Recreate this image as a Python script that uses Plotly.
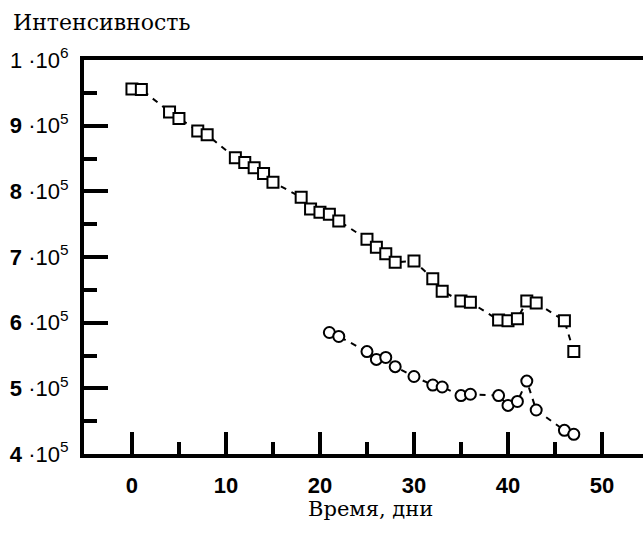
import plotly.graph_objects as go

# ---- data ----
sq_days = [0, 1, 4, 5, 7, 8, 11, 12, 13, 14, 15, 18, 19, 20, 21, 22,
           25, 26, 27, 28, 30, 32, 33, 35, 36, 39, 40, 41, 42, 43, 46, 47]
sq_vals = [956000, 955000, 921000, 911000, 892000, 886000, 851000, 844000,
           836000, 827000, 814000, 791000, 773000, 768000, 765000, 755000,
           727000, 715000, 705000, 692000, 694000, 667000, 648000, 633000,
           631000, 604000, 603000, 606000, 633000, 630000, 603000, 556000]

ci_days = [21, 22, 25, 26, 27, 28, 30, 32, 33, 35, 36, 39, 40, 41, 42, 43, 46, 47]
ci_vals = [585000, 579000, 556000, 544000, 547000, 533000, 518000, 505000,
           502000, 489000, 491000, 489000, 474000, 480000, 511000, 467000,
           436000, 430000]

x_ticks = [0, 10, 20, 30, 40, 50]
x_ticktext = ["0", "10", "20", "30", "40", "50"]
y_ticks = [400000, 500000, 600000, 700000, 800000, 900000, 1000000]
y_ticktext = ["<b>4</b> ·10<sup>5</sup>", "<b>5</b> ·10<sup>5</sup>", "<b>6</b> ·10<sup>5</sup>",
              "<b>7</b> ·10<sup>5</sup>", "<b>8</b> ·10<sup>5</sup>", "<b>9</b> ·10<sup>5</sup>",
              "1 ·10<sup>6</sup>"]

y_title = "Интенсивность"
x_title = "Время, дни"

fig = go.Figure()
fig.add_trace(go.Scatter(
    x=sq_days, y=sq_vals, mode="lines+markers",
    line=dict(color="black", width=2, dash="6px,6px"),
    marker=dict(symbol="square", size=11, color="white",
                line=dict(color="black", width=2)),
    showlegend=False))
fig.add_trace(go.Scatter(
    x=ci_days, y=ci_vals, mode="lines+markers",
    line=dict(color="black", width=2, dash="6px,6px"),
    marker=dict(symbol="circle", size=11, color="white",
                line=dict(color="black", width=2)),
    showlegend=False))

fig.update_xaxes(
    range=[-5.1, 54.36], showgrid=False, zeroline=False,
    showline=True, linecolor="black", linewidth=4, mirror=True,
    tickmode="array", tickvals=x_ticks, ticktext=x_ticktext,
    ticks="inside", ticklen=22, tickwidth=4, tickcolor="black",
    ticklabelstandoff=9,
    tickfont=dict(family="Liberation Sans", size=22, color="black", weight="bold"),
    minor=dict(ticks="inside", ticklen=12, tickwidth=4, tickcolor="black",
               tickmode="array", tickvals=[5, 15, 25, 35, 45]),
)
fig.update_yaxes(
    range=[400000, 1000000], showgrid=False, zeroline=False,
    showline=True, linecolor="black", linewidth=4, mirror=False,
    tickmode="array", tickvals=y_ticks, ticktext=y_ticktext,
    ticks="inside", ticklen=24, tickwidth=4, tickcolor="black",
    ticklabelstandoff=7,
    tickfont=dict(family="Liberation Sans", size=22, color="black"),
    minor=dict(ticks="inside", ticklen=13, tickwidth=4, tickcolor="black",
               tickmode="array", tickvals=[450000, 550000, 650000, 750000, 850000, 950000]),
)

fig.update_layout(
    width=643, height=538,
    margin=dict(l=84, r=0, t=60, b=84),
    plot_bgcolor="white", paper_bgcolor="white",
    annotations=[
        dict(text=y_title, xref="paper", yref="paper", x=-73/559, y=1 + 37/394,
             xanchor="left", yanchor="middle", showarrow=False,
             font=dict(family="DejaVu Serif", size=22, color="black")),
        dict(text=x_title, xref="paper", yref="paper", x=(370-84)/559, y=-55/394,
             xanchor="center", yanchor="middle", showarrow=False,
             font=dict(family="DejaVu Serif", size=21, color="black")),
    ],
)

fig.write_html("out.html")
